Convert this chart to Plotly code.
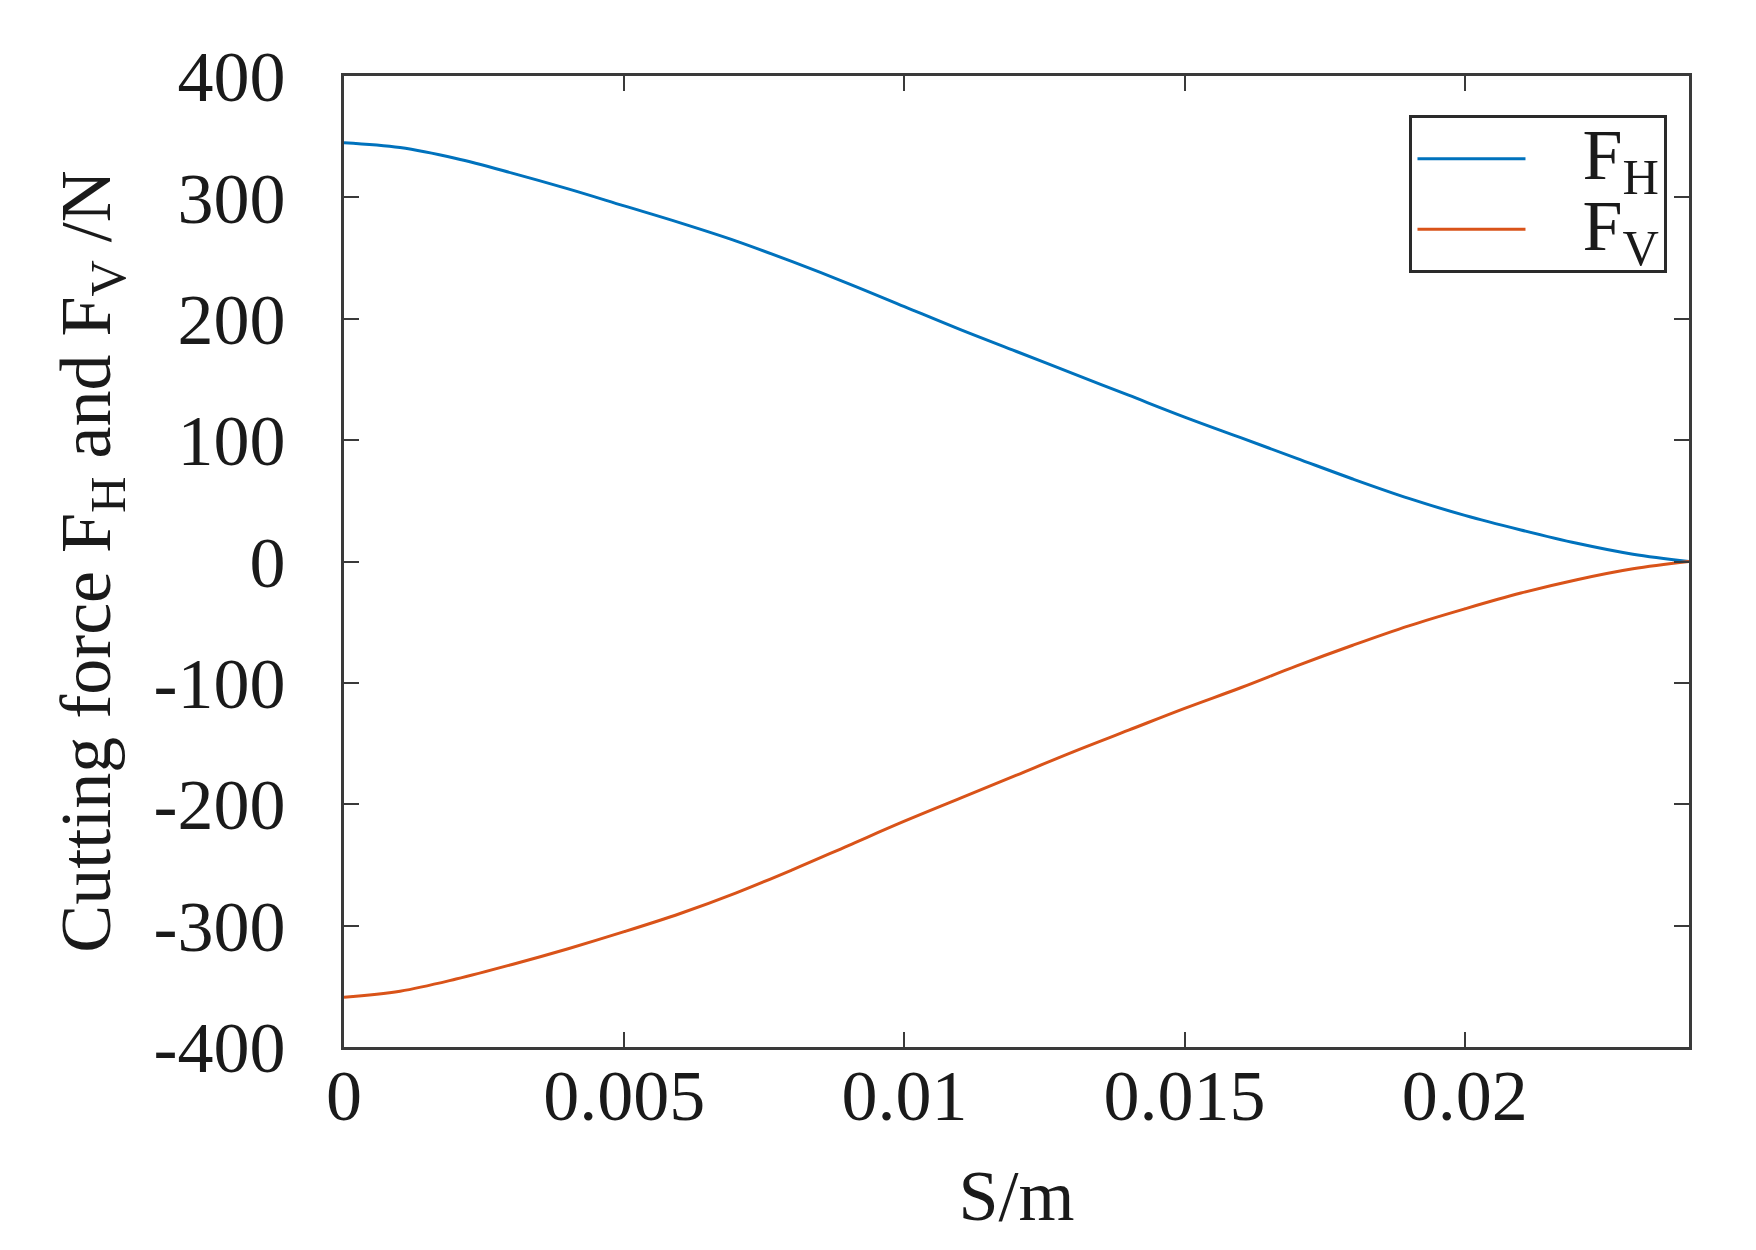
import plotly.graph_objects as go

# values
s = [0, 0.001, 0.002, 0.003, 0.004, 0.005, 0.006, 0.007, 0.008, 0.009, 0.010, 0.011, 0.012,
     0.013, 0.014, 0.015, 0.016, 0.017, 0.018, 0.019, 0.020, 0.021, 0.022, 0.023, 0.024]
force_h = [345, 341, 332, 320, 307, 293, 279, 264, 247, 229, 210, 191, 173,
           155, 137, 119, 102, 85, 68, 52, 38, 26, 15, 6, 0]
force_v = [-359, -354, -344, -332, -319, -305, -290, -273, -254, -234, -214, -195, -176,
           -157, -139, -121, -104, -86, -69, -53, -39, -26, -15, -6, 0]

x_tickvals = [0, 0.005, 0.01, 0.015, 0.02]
x_ticktext = ["0", "0.005", "0.01", "0.015", "0.02"]
y_tickvals = [-400, -300, -200, -100, 0, 100, 200, 300, 400]
y_ticktext = ["-400", "-300", "-200", "-100", "0", "100", "200", "300", "400"]

FONT = "Liberation Serif"
INK = "#1a1a1a"
AXIS = "#3a3a3a"


def legend_name(sub):
    # big glyphs in the legend while the row height follows the smaller legend font
    return "\u2003<span style='font-size:72px'>F<sub>%s</sub></span>" % sub


fig = go.Figure()
fig.add_trace(go.Scatter(x=s, y=force_h, name=legend_name("H"), mode="lines",
                         line=dict(color="#0072BD", width=3, shape="spline")))
fig.add_trace(go.Scatter(x=s, y=force_v, name=legend_name("V"), mode="lines",
                         line=dict(color="#D95319", width=3, shape="spline")))

axis_common = dict(
    showline=True, linecolor=AXIS, linewidth=3, mirror="ticks",
    ticks="inside", ticklen=15, tickwidth=2, tickcolor=AXIS,
    showgrid=False, zeroline=False, automargin=False,
    tickfont=dict(family=FONT, size=72, color=INK),
)

fig.update_xaxes(
    range=[0, 0.024], tickvals=x_tickvals, ticktext=x_ticktext,
    title=dict(text="S/m", font=dict(family=FONT, size=72, color=INK), standoff=35),
    ticklabelstandoff=-16,
    **axis_common,
)
fig.update_yaxes(
    range=[-400, 400], tickvals=y_tickvals, ticktext=y_ticktext,
    title=dict(text="Cutting force F<sub>H</sub> and F<sub>V</sub> /N",
               font=dict(family=FONT, size=72, color=INK), standoff=20),
    ticklabelstandoff=41,
    **axis_common,
)

# the page body adds an 8px offset, so the figure is sized to fit inside the window
fig.update_layout(
    width=1740, height=1234,
    margin=dict(l=336, r=59, t=68, b=195),
    paper_bgcolor="white", plot_bgcolor="white",
    font=dict(family=FONT, color=INK),
    legend=dict(
        x=0.984, y=0.9595, xanchor="right", yanchor="top",
        bordercolor="#2a2a2a", borderwidth=3, bgcolor="white",
        font=dict(family=FONT, size=52, color=INK),
        itemwidth=108, tracegroupgap=0,
    ),
)

fig.write_html("out.html")
